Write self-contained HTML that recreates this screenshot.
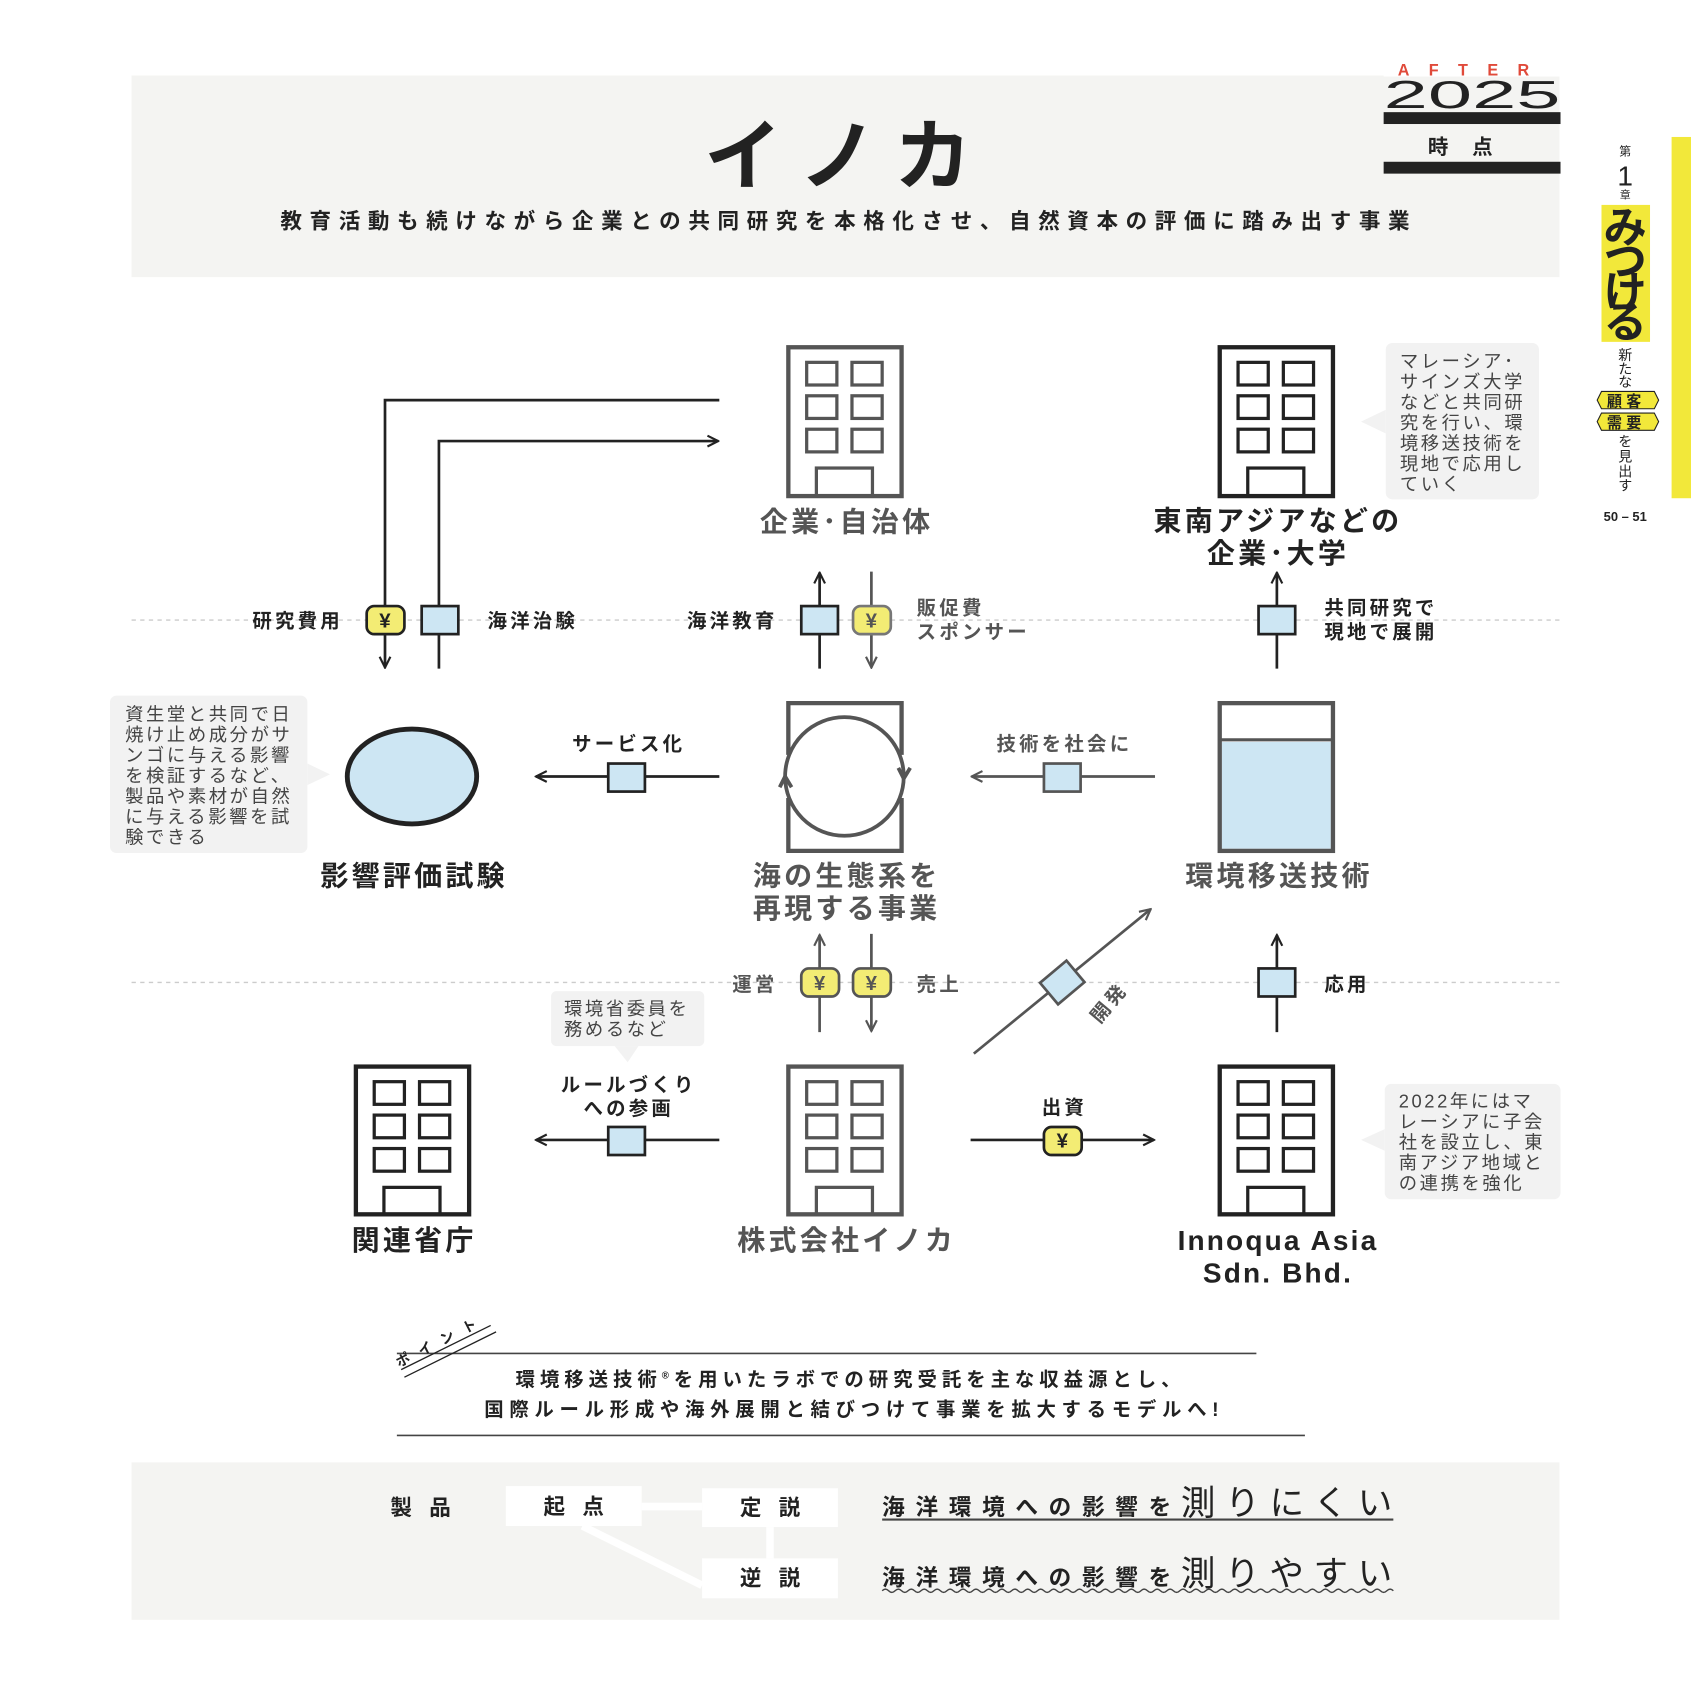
<!DOCTYPE html>
<html><head><meta charset="utf-8">
<style>
html,body{margin:0;padding:0;background:#fff;}
svg{display:block;}
text{font-family:"Liberation Sans","Noto Sans CJK JP",sans-serif;}
</style></head>
<body>
<svg width="1691" height="1691" viewBox="0 0 1568 1568" xmlns="http://www.w3.org/2000/svg">
<defs>
<marker id="ab" viewBox="0 0 10 10" refX="9" refY="5" markerWidth="5" markerHeight="5" orient="auto"><path d="M1,1 L9,5 L1,9" fill="none" stroke="#222" stroke-width="1.6"/></marker>
<marker id="ag" viewBox="0 0 10 10" refX="9" refY="5" markerWidth="5" markerHeight="5" orient="auto"><path d="M1,1 L9,5 L1,9" fill="none" stroke="#555" stroke-width="1.6"/></marker>
</defs>
<!-- header -->
<rect x="122" y="70" width="1324" height="187" fill="#f4f4f2"/>
<text x="785" y="170" text-anchor="middle" font-size="72" font-weight="bold" letter-spacing="16" fill="#222">イノカ</text>
<text x="260" y="212" font-size="20" font-weight="bold" fill="#222" textLength="1047" lengthAdjust="spacing">教育活動も続けながら企業との共同研究を本格化させ、自然資本の評価に踏み出す事業</text>
<rect x="1283" y="52" width="164" height="19" fill="#fff"/>
<text x="1366" y="70" text-anchor="middle" font-size="15" font-weight="bold" fill="#e04a3a" letter-spacing="18">AFTER</text>
<text x="1283" y="100" font-size="36" fill="#222" textLength="164" lengthAdjust="spacingAndGlyphs">2025</text>
<rect x="1283" y="104" width="164" height="11" fill="#222"/>
<text x="1365" y="143" text-anchor="middle" font-size="19" font-weight="bold" letter-spacing="22" fill="#222">時点</text>
<rect x="1283" y="150" width="164" height="11" fill="#222"/>
<!-- side -->
<rect x="1550" y="127" width="18" height="335" fill="#f2e83a"/>
<text x="1507" y="144" text-anchor="middle" font-size="11" fill="#222">第</text>
<text x="1507" y="172" text-anchor="middle" font-size="26" fill="#222">1</text>
<text x="1507" y="184" text-anchor="middle" font-size="10" fill="#222">章</text>
<rect x="1485" y="190" width="45" height="127" fill="#f2e83a"/>
<text font-size="40" font-weight="bold" fill="#222" text-anchor="middle"><tspan x="1507" y="225">み</tspan><tspan x="1507" y="256">つ</tspan><tspan x="1507" y="285">け</tspan><tspan x="1507" y="313">る</tspan></text>
<text font-size="13" fill="#222" text-anchor="middle"><tspan x="1507" y="334">新</tspan><tspan x="1507" y="347">た</tspan><tspan x="1507" y="359">な</tspan></text>
<path d="M1481,371 L1485,363 L1534,363 L1538,371 L1534,379 L1485,379Z" fill="#f2e83a" stroke="#222" stroke-width="1"/>
<text x="1508" y="377" text-anchor="middle" font-size="14" font-weight="bold" letter-spacing="4" fill="#222">顧客</text>
<path d="M1481,391 L1485,383 L1534,383 L1538,391 L1534,399 L1485,399Z" fill="#f2e83a" stroke="#222" stroke-width="1"/>
<text x="1508" y="397" text-anchor="middle" font-size="14" font-weight="bold" letter-spacing="4" fill="#222">需要</text>
<text font-size="13" fill="#222" text-anchor="middle"><tspan x="1507" y="414">を</tspan><tspan x="1507" y="428">見</tspan><tspan x="1507" y="442">出</tspan><tspan x="1507" y="455">す</tspan></text>
<text x="1507" y="483" text-anchor="middle" font-size="12" font-weight="bold" fill="#222">50 – 51</text>

<!-- dotted lines -->
<line x1="122" y1="575" x2="1446" y2="575" stroke="#ccc" stroke-width="1.3" stroke-dasharray="4,4"/>
<line x1="122" y1="911" x2="1446" y2="911" stroke="#ccc" stroke-width="1.3" stroke-dasharray="4,4"/>

<!-- buildings -->
<g fill="none" stroke-width="4">
<g stroke="#555">
<rect x="731" y="322" width="105" height="138"/>
<rect x="748" y="336" width="28" height="21" stroke-width="3"/><rect x="790" y="336" width="28" height="21" stroke-width="3"/>
<rect x="748" y="367" width="28" height="21" stroke-width="3"/><rect x="790" y="367" width="28" height="21" stroke-width="3"/>
<rect x="748" y="398" width="28" height="21" stroke-width="3"/><rect x="790" y="398" width="28" height="21" stroke-width="3"/>
<rect x="757" y="434" width="52" height="26" stroke-width="3"/>
</g>
<g stroke="#222">
<rect x="1131" y="322" width="105" height="138"/>
<rect x="1148" y="336" width="28" height="21" stroke-width="3"/><rect x="1190" y="336" width="28" height="21" stroke-width="3"/>
<rect x="1148" y="367" width="28" height="21" stroke-width="3"/><rect x="1190" y="367" width="28" height="21" stroke-width="3"/>
<rect x="1148" y="398" width="28" height="21" stroke-width="3"/><rect x="1190" y="398" width="28" height="21" stroke-width="3"/>
<rect x="1157" y="434" width="52" height="26" stroke-width="3"/>
</g>
<g stroke="#222">
<rect x="330" y="989" width="105" height="137"/>
<rect x="347" y="1003" width="28" height="21" stroke-width="3"/><rect x="389" y="1003" width="28" height="21" stroke-width="3"/>
<rect x="347" y="1034" width="28" height="21" stroke-width="3"/><rect x="389" y="1034" width="28" height="21" stroke-width="3"/>
<rect x="347" y="1065" width="28" height="21" stroke-width="3"/><rect x="389" y="1065" width="28" height="21" stroke-width="3"/>
<rect x="356" y="1101" width="52" height="25" stroke-width="3"/>
</g>
<g stroke="#555">
<rect x="731" y="989" width="105" height="137"/>
<rect x="748" y="1003" width="28" height="21" stroke-width="3"/><rect x="790" y="1003" width="28" height="21" stroke-width="3"/>
<rect x="748" y="1034" width="28" height="21" stroke-width="3"/><rect x="790" y="1034" width="28" height="21" stroke-width="3"/>
<rect x="748" y="1065" width="28" height="21" stroke-width="3"/><rect x="790" y="1065" width="28" height="21" stroke-width="3"/>
<rect x="757" y="1101" width="52" height="25" stroke-width="3"/>
</g>
<g stroke="#222">
<rect x="1131" y="989" width="105" height="137"/>
<rect x="1148" y="1003" width="28" height="21" stroke-width="3"/><rect x="1190" y="1003" width="28" height="21" stroke-width="3"/>
<rect x="1148" y="1034" width="28" height="21" stroke-width="3"/><rect x="1190" y="1034" width="28" height="21" stroke-width="3"/>
<rect x="1148" y="1065" width="28" height="21" stroke-width="3"/><rect x="1190" y="1065" width="28" height="21" stroke-width="3"/>
<rect x="1157" y="1101" width="52" height="25" stroke-width="3"/>
</g>
<!-- eco box -->
<path d="M731,700 V652 H836 V700 M731,740 V789 H836 V740" stroke="#555"/>
<circle cx="783" cy="720" r="55" stroke="#555" stroke-width="3.5"/>
<!-- env tech -->
<rect x="1133" y="688" width="101" height="99" fill="#cde6f3" stroke="none"/>
<rect x="1131" y="652" width="105" height="137" stroke="#555"/>
<line x1="1131" y1="686" x2="1236" y2="686" stroke="#555" stroke-width="3"/>
</g>
<path d="M833,712 L838,722 L844,712" fill="none" stroke="#555" stroke-width="3.5"/>
<path d="M723,730 L728,720 L734,730" fill="none" stroke="#555" stroke-width="3.5"/>
<ellipse cx="382" cy="720" rx="60" ry="44" fill="#cde6f3" stroke="#222" stroke-width="4.5"/>

<!-- node labels -->
<g font-size="26" font-weight="bold" text-anchor="middle" letter-spacing="3">
<text x="785" y="493" fill="#555">企業･自治体</text>
<text x="1185" y="492" fill="#222">東南アジアなどの</text>
<text x="1185" y="522" fill="#222">企業･大学</text>
<text x="785" y="821" fill="#555">海の生態系を</text>
<text x="785" y="851" fill="#555">再現する事業</text>
<text x="1186" y="821" fill="#555">環境移送技術</text>
<text x="384" y="821" fill="#222">影響評価試験</text>
<text x="384" y="1159" fill="#222">関連省庁</text>
<text x="785" y="1159" fill="#555">株式会社イノカ</text>
<text x="1185" y="1159" fill="#222" letter-spacing="2">Innoqua Asia</text>
<text x="1185" y="1189" fill="#222" letter-spacing="2">Sdn. Bhd.</text>
</g>

<!-- connectors -->
<g fill="none" stroke-width="2.5">
<path d="M667,371 H357 V619" stroke="#222" marker-end="url(#ab)"/>
<path d="M407,620 V409 H666" stroke="#222" marker-end="url(#ab)"/>
<path d="M760,620 V531" stroke="#222" marker-end="url(#ab)"/>
<path d="M808,530 V619" stroke="#555" marker-end="url(#ag)"/>
<path d="M1184,620 V531" stroke="#222" marker-end="url(#ab)"/>
<path d="M667,720 H497" stroke="#222" marker-end="url(#ab)"/>
<path d="M1071,720 H901" stroke="#555" marker-end="url(#ag)"/>
<path d="M760,957 V867" stroke="#555" marker-end="url(#ag)"/>
<path d="M808,866 V956" stroke="#555" marker-end="url(#ag)"/>
<path d="M903,977 L1067,843" stroke="#555" marker-end="url(#ag)"/>
<path d="M1184,957 V867" stroke="#222" marker-end="url(#ab)"/>
<path d="M667,1057 H497" stroke="#222" marker-end="url(#ab)"/>
<path d="M900,1057 H1070" stroke="#222" marker-end="url(#ab)"/>
</g>
<!-- squares -->
<g fill="#cde6f3" stroke="#222" stroke-width="2.5">
<rect x="391" y="562" width="34" height="26"/>
<rect x="743" y="562" width="34" height="26"/>
<rect x="1167" y="562" width="34" height="26"/>
<rect x="564" y="708" width="34" height="26"/>
<rect x="968" y="708" width="34" height="26" stroke="#555"/>
<rect x="1167" y="898" width="34" height="26"/>
<rect x="564" y="1045" width="34" height="26"/>
<rect x="969" y="898" width="32" height="26" transform="rotate(-40 985 911)" stroke="#555"/>
</g>
<!-- yen -->
<g stroke-width="2.5" fill="#f3ec74">
<rect x="340" y="562" width="35" height="26" rx="7" stroke="#222"/>
<rect x="791" y="562" width="35" height="26" rx="7" stroke="#777"/>
<rect x="743" y="898" width="35" height="26" rx="7" stroke="#555"/>
<rect x="791" y="898" width="35" height="26" rx="7" stroke="#555"/>
<rect x="968" y="1045" width="35" height="26" rx="7" stroke="#222"/>
</g>
<g font-size="19" font-weight="bold" text-anchor="middle" fill="#222">
<text x="357" y="582">¥</text><text x="808" y="582" fill="#555">¥</text>
<text x="760" y="918" fill="#555">¥</text><text x="808" y="918" fill="#555">¥</text>
<text x="985" y="1064">¥</text>
</g>

<!-- connector labels -->
<g font-size="18" font-weight="bold" fill="#222" letter-spacing="3">
<text x="318" y="582" text-anchor="end">研究費用</text>
<text x="452" y="582">海洋治験</text>
<text x="721" y="582" text-anchor="end">海洋教育</text>
<text x="850" y="570" fill="#555">販促費</text>
<text x="850" y="592" fill="#555">スポンサー</text>
<text x="1228" y="570">共同研究で</text>
<text x="1228" y="592">現地で展開</text>
<text x="583" y="696" text-anchor="middle">サービス化</text>
<text x="987" y="696" text-anchor="middle" fill="#555">技術を社会に</text>
<text x="721" y="919" text-anchor="end" fill="#555">運営</text>
<text x="850" y="919" fill="#555">売上</text>
<text x="1228" y="919">応用</text>
<text x="1010" y="945" fill="#555" transform="rotate(-50 1020 937)">開発</text>
<text x="583" y="1012" text-anchor="middle">ルールづくり</text>
<text x="583" y="1034" text-anchor="middle">への参画</text>
<text x="987" y="1033" text-anchor="middle">出資</text>
</g>

<!-- callouts -->
<g fill="#f2f2f2">
<rect x="102" y="645" width="183" height="146" rx="6"/><path d="M285,708 L306,718 L285,728Z"/>
<rect x="1285" y="318" width="142" height="145" rx="6"/><path d="M1285,380 L1262,391 L1285,402Z"/>
<rect x="1284" y="1005" width="163" height="107" rx="6"/><path d="M1284,1047 L1262,1057 L1284,1067Z"/>
<rect x="511" y="919" width="142" height="51" rx="5"/><path d="M570,970 L582,985 L592,970Z"/>
</g>
<g font-size="17" fill="#444" letter-spacing="2.4">
<text x="116" y="668">資生堂と共同で日</text>
<text x="116" y="687">焼け止め成分がサ</text>
<text x="116" y="706">ンゴに与える影響</text>
<text x="116" y="725">を検証するなど、</text>
<text x="116" y="744">製品や素材が自然</text>
<text x="116" y="763">に与える影響を試</text>
<text x="116" y="782">験できる</text>
<text x="1298" y="341">マレーシア･</text>
<text x="1298" y="360">サインズ大学</text>
<text x="1298" y="379">などと共同研</text>
<text x="1298" y="398">究を行い、環</text>
<text x="1298" y="417">境移送技術を</text>
<text x="1298" y="436">現地で応用し</text>
<text x="1298" y="455">ていく</text>
<text x="1297" y="1027">2022年にはマ</text>
<text x="1297" y="1046">レーシアに子会</text>
<text x="1297" y="1065">社を設立し、東</text>
<text x="1297" y="1084">南アジア地域と</text>
<text x="1297" y="1103">の連携を強化</text>
<text x="523" y="941">環境省委員を</text>
<text x="523" y="960">務めるなど</text>
</g>

<!-- point -->
<line x1="368" y1="1255" x2="1165" y2="1255" stroke="#444" stroke-width="1.5"/>
<line x1="368" y1="1331" x2="1210" y2="1331" stroke="#444" stroke-width="1.5"/>
<line x1="372" y1="1270" x2="455" y2="1229" stroke="#222" stroke-width="1.2"/>
<line x1="375" y1="1277" x2="460" y2="1235" stroke="#222" stroke-width="1.2"/>
<text x="370" y="1268" font-size="13" font-weight="bold" fill="#222" letter-spacing="10" transform="rotate(-27 370 1268)">ポイント</text>
<text x="478" y="1285" font-size="18" font-weight="bold" fill="#222" letter-spacing="4.6">環境移送技術<tspan font-size="9" dy="-7">®</tspan><tspan dy="7">を用いたラボでの研究受託を主な収益源とし、</tspan></text>
<text x="449" y="1313" font-size="18" font-weight="bold" fill="#222" textLength="681" lengthAdjust="spacing">国際ルール形成や海外展開と結びつけて事業を拡大するモデルへ!</text>

<!-- bottom -->
<rect x="122" y="1356" width="1324" height="146" fill="#f4f4f2"/>
<path d="M595,1397 H651 M714,1416 V1445 M540,1415 L651,1470" stroke="#fff" stroke-width="7" fill="none"/>
<rect x="469" y="1378" width="126" height="37" fill="#fff"/>
<rect x="651" y="1380" width="126" height="36" fill="#fff"/>
<rect x="651" y="1445" width="126" height="37" fill="#fff"/>
<g font-size="20" font-weight="bold" fill="#222" text-anchor="middle" letter-spacing="16">
<text x="398" y="1405">製品</text>
<text x="540" y="1404">起点</text>
<text x="722" y="1405">定説</text>
<text x="722" y="1470">逆説</text>
</g>
<text x="818" y="1405" font-size="21" font-weight="bold" fill="#222" textLength="268" lengthAdjust="spacing">海洋環境への影響を</text>
<text x="1095" y="1405" font-size="32" fill="#222" textLength="196" lengthAdjust="spacing">測りにくい</text>
<line x1="818" y1="1409" x2="1292" y2="1409" stroke="#444" stroke-width="2"/>
<text x="818" y="1470" font-size="21" font-weight="bold" fill="#222" textLength="268" lengthAdjust="spacing">海洋環境への影響を</text>
<text x="1095" y="1470" font-size="32" fill="#222" textLength="196" lengthAdjust="spacing">測りやすい</text>
<path d="M818,1475 q3,-3 6,0 t6,0 t6,0 t6,0 t6,0 t6,0 t6,0 t6,0 t6,0 t6,0 t6,0 t6,0 t6,0 t6,0 t6,0 t6,0 t6,0 t6,0 t6,0 t6,0 t6,0 t6,0 t6,0 t6,0 t6,0 t6,0 t6,0 t6,0 t6,0 t6,0 t6,0 t6,0 t6,0 t6,0 t6,0 t6,0 t6,0 t6,0 t6,0 t6,0 t6,0 t6,0 t6,0 t6,0 t6,0 t6,0 t6,0 t6,0 t6,0 t6,0 t6,0 t6,0 t6,0 t6,0 t6,0 t6,0 t6,0 t6,0 t6,0 t6,0 t6,0 t6,0 t6,0 t6,0 t6,0 t6,0 t6,0 t6,0 t6,0 t6,0 t6,0 t6,0 t6,0 t6,0 t6,0 t6,0 t6,0 t6,0 t6,0" fill="none" stroke="#444" stroke-width="1.3"/>
</svg>
</body></html>
